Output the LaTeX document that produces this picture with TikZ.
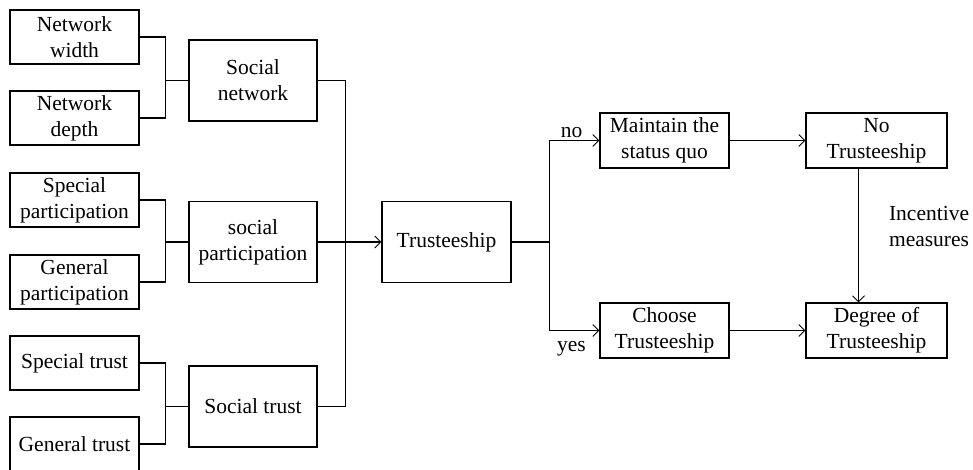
\documentclass[tikz,border=0pt]{standalone}
\usepackage{fontspec}
\setmainfont{Liberation Serif}
\usetikzlibrary{arrows.meta}
\tikzset{
 box/.style={draw,line width=1.1pt,align=center,inner sep=0pt,font=\fontsize{21.5}{26}\selectfont},
 leaf/.style={box,minimum width=129,minimum height=54},
 mid/.style={box,minimum width=128,minimum height=81},
 res/.style={box,minimum height=55},
 lab/.style={font=\fontsize{21.5}{26}\selectfont,inner sep=2pt}
}
\begin{document}
\begin{tikzpicture}[x=1pt,y=-1pt,line width=1.1pt,>={Straight Barb[length=6pt,width=12pt,line width=1pt]}]
 \useasboundingbox (0,0) rectangle (973,470);
 \node[leaf] (nw) at (74.5,37) {Network\\width};
 \node[leaf] (nd) at (74.5,118) {Network\\depth};
 \node[leaf] (spp) at (74.5,200) {Special\\participation};
 \node[leaf] (gp) at (74.5,282) {General\\participation};
 \node[leaf] (stt) at (74.5,363) {Special trust};
 \node[leaf] (gt) at (74.5,444) {General trust};
 \node[mid] (sn) at (253,80.5) {Social\\network};
 \node[mid] (sp) at (253,242) {social\\participation};
 \node[mid] (st) at (253,406.5) {Social trust};
 \node[mid,minimum width=129] (tr) at (446.5,242) {Trusteeship};
 \node[res,minimum width=129] (mq) at (664.5,140.5) {Maintain the\\status quo};
 \node[res,minimum width=141] (nt) at (876.5,140.5) {No\\Trusteeship};
 \node[res,minimum width=129] (ct) at (664.5,330.5) {Choose\\Trusteeship};
 \node[res,minimum width=141] (dt) at (876.5,330.5) {Degree of\\Trusteeship};
 \draw (nw.east) -- ++(26,0) |- (sn.west);
 \draw (nd.east) -- ++(26,0) |- (sn.west);
 \draw (spp.east) -- ++(26,0) |- (sp.west);
 \draw (gp.east) -- ++(26,0) |- (sp.west);
 \draw (stt.east) -- ++(26,0) |- (st.west);
 \draw (gt.east) -- ++(26,0) |- (st.west);
 \draw (sn.east) -- ++(28,0) |- (st.east);
 \draw[->] (sp.east) -- (tr.west);
 \draw[->] (tr.east) -- ++(38,0) |- (mq.west) node[lab,pos=0.72,above] {no};
 \draw[->] (tr.east) -- ++(38,0) |- (ct.west) node[lab,pos=0.72,below,yshift=-8] {yes};
 \draw[->] (mq.east) -- (nt.west);
 \draw[->] (ct.east) -- (dt.west);
 \draw[->] ([xshift=-18]nt.south) -- ([xshift=-18]dt.north)
  node[lab,midway,right,align=left,xshift=28,yshift=9] {Incentive\\measures};
\end{tikzpicture}
\end{document}
